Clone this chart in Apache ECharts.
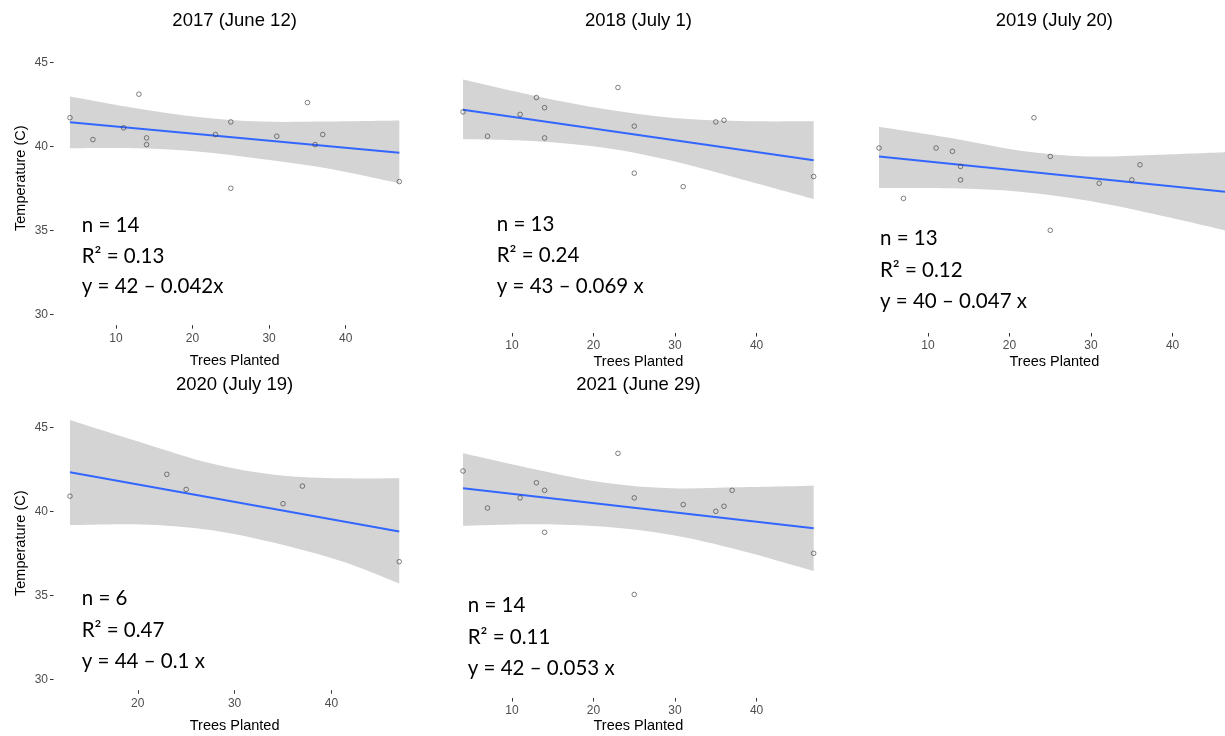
<!DOCTYPE html>
<html><head><meta charset="utf-8">
<script src="https://cdn.jsdelivr.net/npm/echarts@6/dist/echarts.min.js"></script>
<style>html,body{margin:0;padding:0;background:#fff}#c{width:1225px;height:736px}</style>
</head><body><div id="c"></div>
<script>
// ---------- text ----------
const panelTitles = ['2017 (June 12)', '2018 (July 1)', '2019 (July 20)', '2020 (July 19)', '2021 (June 29)'];
const nLabels = ['n = 14', 'n = 13', 'n = 13', 'n = 6', 'n = 14'];
const r2Labels = ['R² = 0.13', 'R² = 0.24', 'R² = 0.12', 'R² = 0.47', 'R² = 0.11'];
const eqLabels = ['y = 42 – 0.042x', 'y = 43 – 0.069 x', 'y = 40 – 0.047 x', 'y = 44 – 0.1 x', 'y = 42 – 0.053 x'];
const xAxisName = 'Trees Planted';
const yAxisName = 'Temperature (C)';
const yTickValues = [30, 35, 40, 45];
const xTickValuesA = [10, 20, 30, 40];
const xTickValuesB = [20, 30, 40];

// ---------- observations (trees planted, temperature) ----------
const trees2017 = [4, 7, 11, 13, 14, 14, 23, 25, 25, 31, 35, 36, 37, 47];
const temp2017  = [41.7, 40.4, 41.1, 43.1, 40.5, 40.1, 40.7, 41.45, 37.5, 40.6, 42.6, 40.1, 40.7, 37.9];
const trees2018 = [4, 7, 11, 13, 14, 14, 23, 25, 25, 31, 35, 36, 47];
const temp2018  = [42.05, 40.6, 41.9, 42.9, 42.3, 40.5, 43.5, 41.2, 38.4, 37.6, 41.45, 41.55, 38.2];
const trees2019 = [4, 7, 11, 13, 14, 14, 23, 25, 25, 31, 35, 36, 47];
const temp2019  = [39.9, 36.9, 39.9, 39.7, 38.8, 38.0, 41.7, 39.4, 35.0, 37.8, 38.0, 38.9, 37.6];
const trees2020 = [13, 23, 25, 35, 37, 47];
const temp2020  = [40.9, 42.2, 41.3, 40.45, 41.5, 37.0];
const trees2021 = [4, 7, 11, 13, 14, 14, 23, 25, 25, 31, 35, 36, 37, 47];
const temp2021  = [42.4, 40.2, 40.8, 41.7, 41.25, 38.75, 43.45, 40.8, 35.05, 40.4, 40.0, 40.3, 41.25, 37.5];

// ---------- fitted line ends ----------
const fitX2017 = [4, 47];  const fitY2017 = [41.43, 39.61];
const fitX2018 = [4, 47];  const fitY2018 = [42.18, 39.17];
const fitX2019 = [4, 47];  const fitY2019 = [39.39, 37.27];
const fitX2020 = [13, 47]; const fitY2020 = [42.32, 38.79];
const fitX2021 = [4, 47];  const fitY2021 = [41.37, 38.99];

// ---------- confidence band edges ----------
const bandX2017 = [4, 13, 21, 29, 37.5, 47];
const bandUp2017 = [42.96, 42.23, 41.73, 41.47, 41.47, 41.53];
const bandLo2017 = [39.88, 39.88, 39.68, 39.25, 38.69, 37.80];
const bandX2018 = [4, 13, 21.5, 29.5, 38, 47];
const bandUp2018 = [43.97, 42.98, 42.2, 41.7, 41.5, 41.49];
const bandLo2018 = [40.42, 40.3, 39.9, 39.15, 38.06, 36.87];
const bandX2019 = [4, 13, 21.3, 29.5, 37.6, 47];
const bandUp2019 = [41.17, 40.48, 39.74, 39.4, 39.49, 39.66];
const bandLo2019 = [37.52, 37.5, 37.3, 36.77, 35.98, 34.93];
const bandX2020 = [13, 20.6, 27.5, 34.3, 41.2, 47];
const bandUp2020 = [45.43, 44.05, 42.86, 42.16, 41.96, 41.96];
const bandLo2020 = [39.18, 39.22, 38.89, 38.1, 37.0, 35.71];
const bandX2021 = [4, 13.2, 21.4, 29.6, 37.8, 47];
const bandUp2021 = [43.45, 42.46, 41.7, 41.37, 41.43, 41.52];
const bandLo2021 = [39.14, 39.23, 39.08, 38.59, 37.7, 36.45];

const panels = [
  {trees: trees2017, temp: temp2017, fx: fitX2017, fy: fitY2017, bx: bandX2017, bu: bandUp2017, bl: bandLo2017},
  {trees: trees2018, temp: temp2018, fx: fitX2018, fy: fitY2018, bx: bandX2018, bu: bandUp2018, bl: bandLo2018},
  {trees: trees2019, temp: temp2019, fx: fitX2019, fy: fitY2019, bx: bandX2019, bu: bandUp2019, bl: bandLo2019},
  {trees: trees2020, temp: temp2020, fx: fitX2020, fy: fitY2020, bx: bandX2020, bu: bandUp2020, bl: bandLo2020},
  {trees: trees2021, temp: temp2021, fx: fitX2021, fy: fitY2021, bx: bandX2021, bu: bandUp2021, bl: bandLo2021}
];

// ---------- layout (positions / styles) ----------
const layout = [
  {left: 53.5, top: 31.2, width: 362.3, height: 294, xMin: 1.85, xMax: 49.15, yMin: 29.35, yMax: 46.85, showY: true, xTicks: xTickValuesA, nameGap: 28.5, titleX: 234.6, titleY: 20.8, annX: 81.7, annY: [225.3, 256.3, 286.3]},
  {left: 445.5, top: 31.2, width: 385.7, height: 301.8, xMin: 1.85, xMax: 49.15, yMin: 28.89, yMax: 46.85, showY: false, xTicks: xTickValuesA, nameGap: 21, titleX: 638.4, titleY: 20.8, annX: 496.7, annY: [224.7, 255.7, 286.3]},
  {left: 861.5, top: 31.2, width: 385.7, height: 301.8, xMin: 1.85, xMax: 49.15, yMin: 28.89, yMax: 46.85, showY: false, xTicks: xTickValuesA, nameGap: 21, titleX: 1054.4, titleY: 20.8, annX: 880, annY: [238, 270.3, 301.3]},
  {left: 53.5, top: 396.2, width: 362.2, height: 294, xMin: 11.3, xMax: 48.7, yMin: 29.35, yMax: 46.85, showY: true, xTicks: xTickValuesB, nameGap: 28, titleX: 234.6, titleY: 384.5, annX: 81.7, annY: [598.7, 630.3, 661.3]},
  {left: 445.5, top: 396.2, width: 385.7, height: 301.8, xMin: 1.85, xMax: 49.15, yMin: 28.89, yMax: 46.85, showY: false, xTicks: xTickValuesA, nameGap: 20, titleX: 638.4, titleY: 384.5, annX: 467.7, annY: [605.3, 637.3, 668.7]}
];

const AX_FONT = 'Liberation Sans, Arial, sans-serif';
const ANN_FONT = 'Lato, sans-serif';

function bezierPath(pts) {
  // Catmull-Rom through the given pixel points, as cubic bezier commands
  let d = '';
  for (let i = 0; i < pts.length - 1; i++) {
    const p0 = pts[Math.max(i - 1, 0)], p1 = pts[i], p2 = pts[i + 1], p3 = pts[Math.min(i + 2, pts.length - 1)];
    const c1 = [p1[0] + (p2[0] - p0[0]) / 6, p1[1] + (p2[1] - p0[1]) / 6];
    const c2 = [p2[0] - (p3[0] - p1[0]) / 6, p2[1] - (p3[1] - p1[1]) / 6];
    d += ' C' + c1[0] + ' ' + c1[1] + ' ' + c2[0] + ' ' + c2[1] + ' ' + p2[0] + ' ' + p2[1];
  }
  return d;
}

const grids = [], xAxes = [], yAxes = [], series = [], graphics = [];
panels.forEach((p, i) => {
  const L = layout[i];
  grids.push({left: L.left, top: L.top, width: L.width, height: L.height, containLabel: false, outerBoundsMode: 'none'});
  xAxes.push({
    type: 'value', gridIndex: i, min: L.xMin, max: L.xMax,
    name: xAxisName, nameLocation: 'middle', nameGap: L.nameGap,
    nameTextStyle: {fontFamily: AX_FONT, fontSize: 14.5, color: '#000'},
    axisLine: {show: false}, splitLine: {show: false},
    axisTick: {show: true, customValues: L.xTicks, length: 3.5, lineStyle: {color: '#333', width: 1}},
    axisLabel: {customValues: L.xTicks, margin: 7, fontFamily: AX_FONT, fontSize: 12, color: '#4d4d4d'}
  });
  yAxes.push({
    type: 'value', gridIndex: i, min: L.yMin, max: L.yMax, show: L.showY,
    name: yAxisName, nameLocation: 'middle', nameGap: 25,
    nameTextStyle: {fontFamily: AX_FONT, fontSize: 14.5, color: '#000'},
    axisLine: {show: false}, splitLine: {show: false},
    axisTick: {show: true, customValues: yTickValues, length: 3.5, lineStyle: {color: '#333', width: 1}},
    axisLabel: {customValues: yTickValues, margin: 5.5, fontFamily: AX_FONT, fontSize: 12, color: '#4d4d4d'}
  });
  const bandRows = p.bx.map((x, k) => [x, p.bl[k], p.bu[k]]);
  series.push({
    type: 'custom', xAxisIndex: i, yAxisIndex: i, clip: true, silent: true, z: 1,
    data: bandRows, encode: {x: 0, y: [1, 2]},
    renderItem: function (params, api) {
      const n = bandRows.length;
      if (params.dataIndex !== n - 1) return null;
      const up = [], lo = [];
      for (let k = 0; k < n; k++) {
        up.push(api.coord([api.value(0, k), api.value(2, k)]));
        lo.push(api.coord([api.value(0, k), api.value(1, k)]));
      }
      lo.reverse();
      const d = 'M' + up[0][0] + ' ' + up[0][1] + bezierPath(up) +
        ' L' + lo[0][0] + ' ' + lo[0][1] + bezierPath(lo) + ' Z';
      return {type: 'path', shape: {pathData: d}, style: {fill: '#d4d4d4', stroke: null}};
    }
  });
  series.push({
    type: 'line', xAxisIndex: i, yAxisIndex: i, symbol: 'none', silent: true, z: 3,
    data: p.fx.map((x, k) => [x, p.fy[k]]),
    lineStyle: {color: '#3366FF', width: 2}
  });
  series.push({
    type: 'scatter', xAxisIndex: i, yAxisIndex: i, silent: true, z: 4,
    symbol: 'circle', symbolSize: 4.6,
    data: p.trees.map((x, k) => [x, p.temp[k]]),
    itemStyle: {color: 'rgba(0,0,0,0)', borderColor: '#3a3a3a', borderWidth: 0.8}
  });
  graphics.push({type: 'text', x: L.titleX, y: L.titleY, z: 10,
    style: {text: panelTitles[i], fontFamily: AX_FONT, fontSize: 18.5, fill: '#000', align: 'center', verticalAlign: 'middle'}});
  [nLabels[i], r2Labels[i], eqLabels[i]].forEach((t, k) => {
    graphics.push({type: 'text', x: L.annX, y: L.annY[k], z: 10,
      style: {text: t, fontFamily: ANN_FONT, fontSize: 20.5, fill: '#000', align: 'left', verticalAlign: 'middle'}});
  });
});

const chart = echarts.init(document.getElementById('c'), null, {renderer: 'canvas'});
chart.setOption({
  animation: false,
  backgroundColor: '#fff',
  grid: grids, xAxis: xAxes, yAxis: yAxes, series: series,
  graphic: graphics
});
</script></body></html>
